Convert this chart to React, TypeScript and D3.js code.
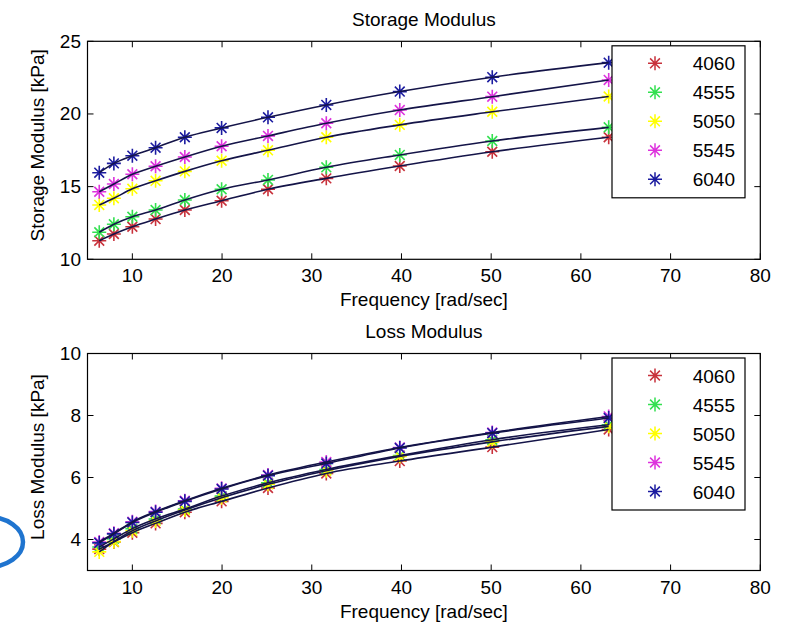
import * as d3 from "d3";

const W = 789;
const H = 628;

// frequencies in rad/sec (log spaced)
const freq = [6.31, 7.94, 10, 12.59, 15.85, 19.95, 25.12, 31.62, 39.81, 50.12, 63.1];

const seriesNames = ["4060", "4555", "5050", "5545", "6040"];
const seriesColors = ["#c8323c", "#33e050", "#ffff00", "#dd33dd", "#1c1ca0"];

// storage modulus [kPa]
const storage4060 = [11.28, 11.74, 12.24, 12.77, 13.39, 14.03, 14.82, 15.57, 16.42, 17.4, 18.4];
const storage4555 = [11.86, 12.41, 12.93, 13.39, 14.08, 14.82, 15.46, 16.33, 17.18, 18.14, 19.08];
const storage5050 = [13.74, 14.2, 14.85, 15.4, 16.05, 16.78, 17.5, 18.4, 19.25, 20.15, 21.2];
const storage5545 = [14.65, 15.18, 15.85, 16.4, 17.04, 17.78, 18.49, 19.36, 20.27, 21.19, 22.34];
const storage6040 = [15.96, 16.6, 17.13, 17.68, 18.4, 19.04, 19.77, 20.62, 21.54, 22.53, 23.53];

// loss modulus [kPa]
const loss4060 = [3.69, 3.92, 4.22, 4.52, 4.88, 5.23, 5.66, 6.13, 6.53, 6.98, 7.55];
const loss4555 = [3.76, 4.02, 4.35, 4.66, 4.98, 5.4, 5.83, 6.26, 6.71, 7.22, 7.7];
const loss5050 = [3.6, 3.93, 4.28, 4.6, 4.95, 5.35, 5.78, 6.22, 6.68, 7.15, 7.65];
const loss5545 = [3.92, 4.2, 4.57, 4.9, 5.25, 5.65, 6.08, 6.5, 6.97, 7.45, 7.97];
const loss6040 = [3.89, 4.18, 4.55, 4.88, 5.23, 5.63, 6.06, 6.45, 6.95, 7.43, 7.92];

const xTicks = [10, 20, 30, 40, 50, 60, 70, 80];
const storageTicks = [10, 15, 20, 25];
const lossTicks = [4, 6, 8, 10];

const FONT = "'Liberation Sans', Arial, Helvetica, sans-serif";
const FS = 19;
const LINE_COLOR = "#141448";
const AX_LEFT = 87.5;
const AX_RIGHT = 760.3;

const star = "M-7,0H7M0,-7V7M-4.9,-4.9L4.9,4.9M-4.9,4.9L4.9,-4.9";

type PanelProps = {
  title: string;
  yLabel: string;
  yDomain: [number, number];
  yTicks: number[];
  series: number[][];
  top: number;
  bottom: number;
};

function Panel({ title, yLabel, yDomain, yTicks, series, top, bottom }: PanelProps) {
  const x = d3.scaleLinear().domain([5, 80]).range([AX_LEFT, AX_RIGHT]);
  const y = d3.scaleLinear().domain(yDomain).range([bottom, top]);
  const line = d3
    .line<number>()
    .x((_, i) => x(freq[i]))
    .y((d) => y(d))
    .curve(d3.curveMonotoneX);
  const tick = 6;
  const legendX = 612;
  const legendY = top + 4.5;

  return (
    <g fontFamily={FONT} fontSize={FS} fill="#000">
      <text x={(AX_LEFT + AX_RIGHT) / 2} y={top - 15.5} textAnchor="middle">
        {title}
      </text>
      <text
        transform={`translate(43.5,${(top + bottom) / 2 - 5}) rotate(-90)`}
        textAnchor="middle"
      >
        {yLabel}
      </text>

      {/* markers */}
      {series.map((vals, si) => (
        <g key={"m" + si} stroke={seriesColors[si]} strokeWidth={1.6} fill="none">
          {vals.map((v, i) => (
            <path key={i} d={star} transform={`translate(${x(freq[i])},${y(v)})`} />
          ))}
        </g>
      ))}
      {/* fitted lines */}
      {series.map((vals, si) => (
        <path key={"l" + si} d={line(vals) ?? ""} fill="none" stroke={LINE_COLOR} strokeWidth={1.6} />
      ))}

      {/* axes box + ticks */}
      <rect x={AX_LEFT} y={top} width={AX_RIGHT - AX_LEFT} height={bottom - top} fill="none" stroke="#000" strokeWidth={1.2} />
      {xTicks.map((t) => (
        <g key={"x" + t}>
          <line x1={x(t)} x2={x(t)} y1={bottom} y2={bottom - tick} stroke="#000" />
          <line x1={x(t)} x2={x(t)} y1={top} y2={top + tick} stroke="#000" />
          <text x={x(t)} y={bottom + 23} textAnchor="middle">
            {t}
          </text>
        </g>
      ))}
      {yTicks.map((t) => (
        <g key={"y" + t}>
          <line x1={AX_LEFT} x2={AX_LEFT + tick} y1={y(t)} y2={y(t)} stroke="#000" />
          <line x1={AX_RIGHT} x2={AX_RIGHT - tick} y1={y(t)} y2={y(t)} stroke="#000" />
          <text x={81} y={y(t) + 6.5} textAnchor="end">
            {t}
          </text>
        </g>
      ))}
      <text x={(AX_LEFT + AX_RIGHT) / 2} y={bottom + 47} textAnchor="middle">
        Frequency [rad/sec]
      </text>

      {/* legend */}
      <rect x={legendX} y={legendY} width={133} height={152} fill="#fff" stroke="#000" strokeWidth={1.2} />
      {seriesNames.map((name, i) => (
        <g key={name} transform={`translate(0,${legendY + 17.5 + i * 29})`}>
          <path d={star} transform="translate(655,0)" stroke={seriesColors[i]} strokeWidth={1.5} fill="none" />
          <text x={735} y={7} textAnchor="end">
            {name}
          </text>
        </g>
      ))}
    </g>
  );
}

export default function App() {
  return (
    <svg
      width={W}
      height={H}
      style={{ position: "absolute", left: 0, top: 0, background: "#fff" }}
    >
      <rect width={W} height={H} fill="#fff" />
      <Panel
        title="Storage Modulus"
        yLabel="Storage Modulus [kPa]"
        yDomain={[10, 25]}
        yTicks={storageTicks}
        series={[storage4060, storage4555, storage5050, storage5545, storage6040]}
        top={41.3}
        bottom={259.3}
      />
      <Panel
        title="Loss Modulus"
        yLabel="Loss Modulus [kPa]"
        yDomain={[3, 10]}
        yTicks={lossTicks}
        series={[loss4060, loss4555, loss5050, loss5545, loss6040]}
        top={353.5}
        bottom={570.5}
      />
      <ellipse cx={-12} cy={542} rx={35} ry={25} fill="none" stroke="#1f74cf" strokeWidth={4.5} />
    </svg>
  );
}
